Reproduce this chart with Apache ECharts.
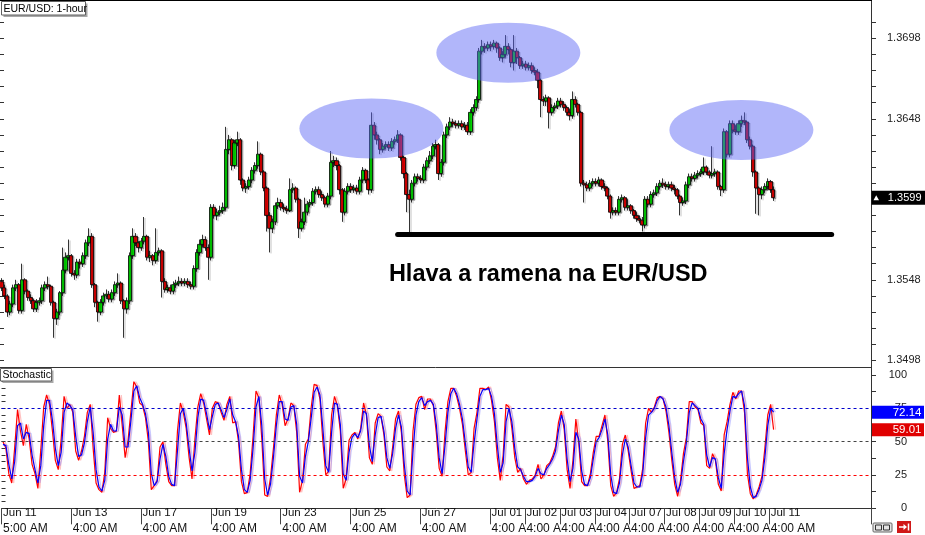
<!DOCTYPE html>
<html><head><meta charset="utf-8">
<script src="https://cdn.jsdelivr.net/npm/echarts@6/dist/echarts.min.js"></script>
<style>html,body{margin:0;padding:0;background:#fff}#c{width:925px;height:535px}</style>
</head><body><div id="c"></div>
<script>
// ---- Data (EUR/USD, 2-hour resolution) ----
const opens = [1.3547,1.3543,1.3538,1.3528,1.3533,1.3543,1.3545,1.3529,1.3548,1.3541,
1.3537,1.3535,1.3530,1.3534,1.3535,1.3543,1.3545,1.3544,1.3534,1.3524,
1.3528,1.3540,1.3554,1.3562,1.3563,1.3552,1.3551,1.3559,1.3558,1.3563,
1.3571,1.3575,1.3545,1.3534,1.3528,1.3534,1.3538,1.3539,1.3536,1.3540,
1.3545,1.3546,1.3535,1.3530,1.3535,1.3563,1.3575,1.3571,1.3568,1.3572,
1.3575,1.3562,1.3563,1.3560,1.3565,1.3566,1.3547,1.3542,1.3543,1.3541,
1.3545,1.3546,1.3547,1.3546,1.3547,1.3545,1.3544,1.3555,1.3565,1.3570,
1.3573,1.3568,1.3562,1.3593,1.3588,1.3590,1.3591,1.3593,1.3629,1.3635,
1.3619,1.3633,1.3635,1.3610,1.3605,1.3606,1.3610,1.3616,1.3619,1.3626,
1.3615,1.3605,1.3588,1.3580,1.3584,1.3594,1.3596,1.3593,1.3592,1.3591,
1.3604,1.3605,1.3598,1.3580,1.3584,1.3590,1.3595,1.3596,1.3603,1.3604,
1.3601,1.3599,1.3595,1.3600,1.3621,1.3622,1.3619,1.3604,1.3590,1.3603,
1.3606,1.3604,1.3605,1.3603,1.3610,1.3616,1.3610,1.3604,1.3644,1.3638,
1.3635,1.3629,1.3631,1.3632,1.3630,1.3634,1.3635,1.3638,1.3624,1.3614,
1.3601,1.3598,1.3608,1.3612,1.3611,1.3610,1.3618,1.3622,1.3625,1.3631,
1.3632,1.3614,1.3621,1.3638,1.3643,1.3646,1.3645,1.3644,1.3645,1.3643,
1.3644,1.3640,1.3652,1.3655,1.3660,1.3690,1.3693,1.3692,1.3694,1.3693,
1.3695,1.3692,1.3686,1.3688,1.3693,1.3691,1.3683,1.3690,1.3686,1.3681,
1.3682,1.3680,1.3681,1.3678,1.3677,1.3672,1.3660,1.3659,1.3661,1.3652,
1.3655,1.3656,1.3659,1.3657,1.3655,1.3652,1.3650,1.3660,1.3657,1.3652,
1.3608,1.3607,1.3605,1.3608,1.3609,1.3608,1.3610,1.3606,1.3605,1.3600,
1.3590,1.3591,1.3590,1.3598,1.3599,1.3593,1.3594,1.3591,1.3588,1.3586,
1.3585,1.3582,1.3598,1.3595,1.3601,1.3602,1.3606,1.3608,1.3607,1.3606,
1.3607,1.3605,1.3604,1.3600,1.3596,1.3597,1.3607,1.3612,1.3611,1.3613,
1.3614,1.3615,1.3618,1.3615,1.3613,1.3614,1.3615,1.3606,1.3604,1.3640,
1.3626,1.3645,1.3641,1.3640,1.3645,1.3647,1.3646,1.3635,1.3631,1.3615,
1.3605,1.3601,1.3604,1.3606,1.3609,1.3604];
const closes = [1.3543,1.3538,1.3528,1.3533,1.3543,1.3545,1.3529,1.3548,1.3541,1.3537,
1.3535,1.3530,1.3534,1.3535,1.3543,1.3545,1.3544,1.3534,1.3524,1.3528,
1.3540,1.3554,1.3562,1.3563,1.3552,1.3551,1.3559,1.3558,1.3563,1.3571,
1.3575,1.3545,1.3534,1.3528,1.3534,1.3538,1.3539,1.3536,1.3540,1.3545,
1.3546,1.3535,1.3530,1.3535,1.3563,1.3575,1.3571,1.3568,1.3572,1.3575,
1.3562,1.3563,1.3560,1.3565,1.3566,1.3547,1.3542,1.3543,1.3541,1.3545,
1.3546,1.3547,1.3546,1.3547,1.3545,1.3544,1.3555,1.3565,1.3570,1.3573,
1.3568,1.3562,1.3593,1.3588,1.3590,1.3591,1.3593,1.3629,1.3635,1.3619,
1.3633,1.3635,1.3610,1.3605,1.3606,1.3610,1.3616,1.3619,1.3626,1.3615,
1.3605,1.3588,1.3580,1.3584,1.3594,1.3596,1.3593,1.3592,1.3591,1.3604,
1.3605,1.3598,1.3580,1.3584,1.3590,1.3595,1.3596,1.3603,1.3604,1.3601,
1.3599,1.3595,1.3600,1.3621,1.3622,1.3619,1.3604,1.3590,1.3603,1.3606,
1.3604,1.3605,1.3603,1.3610,1.3616,1.3610,1.3604,1.3644,1.3638,1.3635,
1.3629,1.3631,1.3632,1.3630,1.3634,1.3635,1.3638,1.3624,1.3614,1.3601,
1.3598,1.3608,1.3612,1.3611,1.3610,1.3618,1.3622,1.3625,1.3631,1.3632,
1.3614,1.3621,1.3638,1.3643,1.3646,1.3645,1.3644,1.3645,1.3643,1.3644,
1.3640,1.3652,1.3655,1.3660,1.3690,1.3693,1.3692,1.3694,1.3693,1.3695,
1.3692,1.3686,1.3688,1.3693,1.3691,1.3683,1.3690,1.3686,1.3681,1.3682,
1.3680,1.3681,1.3678,1.3677,1.3672,1.3660,1.3659,1.3661,1.3652,1.3655,
1.3656,1.3659,1.3657,1.3655,1.3652,1.3650,1.3660,1.3657,1.3652,1.3608,
1.3607,1.3605,1.3608,1.3609,1.3608,1.3610,1.3606,1.3605,1.3600,1.3590,
1.3591,1.3590,1.3598,1.3599,1.3593,1.3594,1.3591,1.3588,1.3586,1.3585,
1.3582,1.3598,1.3595,1.3601,1.3602,1.3606,1.3608,1.3607,1.3606,1.3607,
1.3605,1.3604,1.3600,1.3596,1.3597,1.3607,1.3612,1.3611,1.3613,1.3614,
1.3615,1.3618,1.3615,1.3613,1.3614,1.3615,1.3606,1.3604,1.3640,1.3626,
1.3645,1.3641,1.3640,1.3645,1.3647,1.3646,1.3635,1.3631,1.3615,1.3605,
1.3601,1.3604,1.3606,1.3609,1.3604,1.3599];
const highs = [1.3549,1.3545,1.3539,1.3535,1.3545,1.3548,1.3546,1.3558,1.3549,1.3542,
1.3539,1.3536,1.3536,1.3537,1.3545,1.3547,1.3550,1.3545,1.3535,1.3530,
1.3541,1.3568,1.3565,1.3573,1.3564,1.3554,1.3561,1.3561,1.3565,1.3573,
1.3580,1.3577,1.3546,1.3535,1.3536,1.3540,1.3542,1.3541,1.3542,1.3547,
1.3552,1.3547,1.3536,1.3537,1.3565,1.3580,1.3577,1.3572,1.3574,1.3587,
1.3576,1.3566,1.3564,1.3580,1.3568,1.3567,1.3549,1.3545,1.3545,1.3547,
1.3548,1.3550,1.3549,1.3549,1.3549,1.3547,1.3557,1.3567,1.3573,1.3576,
1.3575,1.3570,1.3595,1.3595,1.3592,1.3594,1.3596,1.3643,1.3638,1.3636,
1.3635,1.3640,1.3636,1.3611,1.3608,1.3612,1.3618,1.3621,1.3634,1.3627,
1.3616,1.3606,1.3590,1.3586,1.3596,1.3599,1.3598,1.3595,1.3594,1.3611,
1.3608,1.3606,1.3599,1.3586,1.3599,1.3597,1.3598,1.3605,1.3606,1.3606,
1.3603,1.3600,1.3602,1.3628,1.3625,1.3624,1.3620,1.3605,1.3605,1.3608,
1.3608,1.3607,1.3607,1.3612,1.3618,1.3617,1.3611,1.3652,1.3646,1.3640,
1.3636,1.3633,1.3634,1.3634,1.3636,1.3637,1.3641,1.3639,1.3625,1.3615,
1.3604,1.3610,1.3614,1.3614,1.3613,1.3620,1.3624,1.3628,1.3633,1.3635,
1.3633,1.3623,1.3640,1.3645,1.3649,1.3648,1.3647,1.3647,1.3647,1.3646,
1.3646,1.3654,1.3657,1.3662,1.3692,1.3697,1.3695,1.3696,1.3696,1.3697,
1.3696,1.3693,1.3690,1.3700,1.3695,1.3692,1.3700,1.3692,1.3687,1.3684,
1.3684,1.3683,1.3683,1.3680,1.3679,1.3673,1.3662,1.3663,1.3662,1.3657,
1.3658,1.3661,1.3661,1.3659,1.3656,1.3654,1.3665,1.3662,1.3658,1.3653,
1.3610,1.3609,1.3610,1.3611,1.3611,1.3612,1.3611,1.3608,1.3606,1.3601,
1.3593,1.3593,1.3600,1.3601,1.3600,1.3598,1.3595,1.3592,1.3590,1.3588,
1.3587,1.3600,1.3600,1.3603,1.3604,1.3608,1.3610,1.3611,1.3609,1.3609,
1.3609,1.3607,1.3605,1.3601,1.3599,1.3609,1.3614,1.3614,1.3615,1.3616,
1.3617,1.3624,1.3619,1.3616,1.3631,1.3617,1.3616,1.3607,1.3642,1.3641,
1.3647,1.3647,1.3644,1.3647,1.3650,1.3652,1.3647,1.3637,1.3632,1.3616,
1.3606,1.3606,1.3608,1.3611,1.3610,1.3606];
const lows = [1.3541,1.3536,1.3525,1.3526,1.3531,1.3541,1.3527,1.3527,1.3539,1.3535,
1.3533,1.3528,1.3528,1.3532,1.3533,1.3541,1.3542,1.3532,1.3512,1.3520,
1.3526,1.3538,1.3552,1.3560,1.3550,1.3548,1.3549,1.3555,1.3556,1.3561,
1.3569,1.3543,1.3531,1.3522,1.3526,1.3532,1.3536,1.3534,1.3534,1.3538,
1.3543,1.3533,1.3512,1.3527,1.3533,1.3561,1.3569,1.3565,1.3566,1.3570,
1.3560,1.3559,1.3557,1.3558,1.3563,1.3537,1.3540,1.3540,1.3539,1.3539,
1.3543,1.3544,1.3544,1.3544,1.3543,1.3542,1.3542,1.3553,1.3563,1.3568,
1.3566,1.3548,1.3560,1.3586,1.3585,1.3588,1.3589,1.3591,1.3626,1.3616,
1.3617,1.3631,1.3607,1.3603,1.3602,1.3604,1.3608,1.3614,1.3617,1.3613,
1.3603,1.3578,1.3565,1.3577,1.3582,1.3592,1.3591,1.3590,1.3589,1.3590,
1.3602,1.3596,1.3574,1.3578,1.3582,1.3588,1.3593,1.3594,1.3601,1.3599,
1.3597,1.3593,1.3593,1.3598,1.3618,1.3616,1.3601,1.3584,1.3588,1.3601,
1.3602,1.3602,1.3601,1.3601,1.3608,1.3608,1.3601,1.3602,1.3635,1.3632,
1.3626,1.3627,1.3629,1.3628,1.3628,1.3632,1.3633,1.3622,1.3611,1.3590,
1.3577,1.3596,1.3606,1.3609,1.3608,1.3608,1.3616,1.3620,1.3623,1.3629,
1.3610,1.3612,1.3619,1.3636,1.3641,1.3643,1.3642,1.3642,1.3641,1.3641,
1.3638,1.3638,1.3650,1.3653,1.3658,1.3688,1.3689,1.3690,1.3690,1.3691,
1.3689,1.3684,1.3683,1.3686,1.3688,1.3680,1.3678,1.3682,1.3679,1.3679,
1.3678,1.3678,1.3676,1.3675,1.3667,1.3649,1.3656,1.3656,1.3642,1.3650,
1.3653,1.3654,1.3655,1.3653,1.3650,1.3647,1.3648,1.3655,1.3650,1.3606,
1.3596,1.3603,1.3603,1.3606,1.3606,1.3606,1.3604,1.3603,1.3598,1.3586,
1.3588,1.3588,1.3588,1.3596,1.3591,1.3591,1.3589,1.3586,1.3584,1.3583,
1.3578,1.3580,1.3593,1.3593,1.3599,1.3600,1.3604,1.3605,1.3604,1.3604,
1.3603,1.3601,1.3598,1.3588,1.3594,1.3595,1.3605,1.3609,1.3609,1.3611,
1.3612,1.3613,1.3613,1.3611,1.3611,1.3612,1.3604,1.3600,1.3602,1.3624,
1.3624,1.3639,1.3638,1.3638,1.3643,1.3644,1.3633,1.3629,1.3612,1.3589,
1.3588,1.3598,1.3602,1.3604,1.3602,1.3597];
// Stochastic %K (red) and %D (blue)
const stochK = [50,45,26,19,45,74,58,47,63,52,33,26,15,44,76,85,78,58,36,29,
52,84,75,78,72,43,36,43,54,72,78,45,19,14,12,27,68,60,57,58,
85,62,38,51,73,95,91,79,77,68,50,14,17,21,46,50,33,20,17,17,
58,79,72,60,38,22,52,76,86,79,67,55,75,80,79,72,66,78,84,64,
65,50,20,11,12,26,54,88,83,52,10,9,23,45,70,85,78,62,67,79,
77,57,12,21,48,52,76,93,92,82,50,25,28,70,84,77,58,15,22,51,
55,57,52,60,79,70,38,33,64,71,69,55,31,28,46,67,73,57,25,8,
10,58,78,83,84,74,82,82,77,57,30,24,57,80,90,90,84,75,63,43,
25,27,60,72,90,90,89,91,81,65,38,21,40,78,76,60,38,27,30,22,
18,21,22,25,33,22,25,32,34,39,46,64,73,59,29,15,36,67,49,20,
17,17,26,42,54,54,62,70,50,17,9,12,22,48,55,43,28,15,16,17,
30,64,75,72,76,83,84,82,73,57,36,18,9,21,41,53,80,80,76,74,
64,62,32,30,41,36,18,13,55,65,78,87,82,88,88,72,26,11,7,10,
16,24,45,70,78,59.01];
const stochD = [48,47,33,22,35,62,64,52,57,56,40,29,19,32,62,81,81,66,45,32,
42,72,79,77,74,54,39,40,49,65,76,57,29,16,13,21,52,63,58,58,
76,70,46,46,66,88,92,83,78,71,57,26,17,20,37,48,39,24,18,17,
43,71,75,64,45,28,42,68,82,81,71,59,69,78,79,74,68,74,82,70,
65,54,29,14,12,21,45,76,84,62,22,10,18,38,62,80,80,67,66,76,
77,63,24,19,39,50,68,87,91,85,60,32,27,57,79,78,63,26,21,42,
53,56,53,58,73,71,47,35,55,68,69,58,38,30,41,60,70,61,33,13,
10,43,70,80,83,77,80,81,78,63,38,26,47,72,86,90,86,78,67,49,
31,27,49,67,84,89,89,90,84,71,47,27,34,65,75,65,45,31,29,24,
20,20,21,24,30,26,25,30,33,37,43,58,70,63,37,20,30,57,52,28,
18,17,23,37,50,53,59,67,55,25,12,11,19,40,52,46,32,19,16,16,
26,53,70,72,75,81,84,82,76,62,42,23,12,18,35,49,72,79,77,75,
67,63,40,31,38,37,23,15,41,59,73,84,83,86,88,77,38,16,8,9,
14,21,38,62,75,72.14];
// Time axis labels and the bar each one belongs to
const dateLabels = ['Jun 11','Jun 13','Jun 17','Jun 19','Jun 23','Jun 25','Jun 27','Jul 01','Jul 02','Jul 03','Jul 04','Jul 07','Jul 08','Jul 09','Jul 10','Jul 11'];
const timeLabels = ['5:00 AM','4:00 AM','4:00 AM','4:00 AM','4:00 AM','4:00 AM','4:00 AM','4:00 AM','4:00 AM','4:00 AM','4:00 AM','4:00 AM','4:00 AM','4:00 AM','4:00 AM','4:00 AM'];
const labelBars = [0,24,48,72,96,120,144,168,180,192,204,216,228,240,252,264];
const priceTicks = [1.3498,1.3508,1.3518,1.3528,1.3538,1.3548,1.3558,1.3568,1.3578,1.3588,1.3598,1.3608,1.3618,1.3628,1.3638,1.3648,1.3658,1.3668,1.3678,1.3688,1.3698,1.3708];
const priceLabels = [1.3498,1.3548,1.3648,1.3698];
const stochLabels = [0,25,50,75,100];
const stochTicksRight = [0,12.5,25,37.5,50,62.5,75,87.5,100];
const stochTicksLeft = [5,10,15,20,25,30,35,40,45,50,55,60,65,70,75,80,85,90,95];
const stochLevels = [75,50,25];
const lastPrice = 1.3599;
const titleText = 'EUR/USD: 1-hour';
const stochTitle = 'Stochastic';
const patternText = 'Hlava a ramena na EUR/USD';
const shoulders = [{bar:127, price:1.3642},{bar:174, price:1.3689},{bar:254, price:1.3641}];
const neckline = {from:136, to:285, price:1.3576};
const patternLabelAt = {bar:133, price:1.3551};

// ---- Chart ----
const N_CATS = 299;
const cats = Array.from({length:N_CATS}, (_, i) => String(i));
const candleData = closes.map((c, i) => [opens[i], c, lows[i], highs[i]]);
const FONT = "'Liberation Sans', Arial, sans-serif";
const P_MIN = 1.349384, P_MAX = 1.372117, S_MIN = -8.0, S_MAX = 106.0;
const AX = '#333';
// the last (empty) category also gets a label slot, so the axis never drops "Jul 10"/"Jul 11" as overlapping ends
const isLabelSlot = (idx) => labelBars.indexOf(idx) >= 0 || idx === N_CATS - 1;

const chart = echarts.init(document.getElementById('c'));
chart.setOption({
  animation: false,
  backgroundColor: '#fff',
  grid: [
    {left: 0, right: 54, top: 1, height: 366},
    {left: 0, right: 54, top: 367, bottom: 16}
  ],
  xAxis: [
    {type:'category', gridIndex:0, data:cats, axisLine:{show:true, lineStyle:{color:AX}}, axisTick:{show:false}, axisLabel:{show:false}, splitLine:{show:false}},
    {type:'category', gridIndex:1, data:cats, position:'bottom', z:2,
     axisLine:{show:true, lineStyle:{color:AX}}, axisTick:{show:false}, splitLine:{show:false},
     axisLabel:{
       interval: isLabelSlot, hideOverlap: false,
       margin: -14, align: 'left',
       formatter: (v, idx) => { const k = labelBars.indexOf(idx); return k < 0 ? '' : '{d|' + dateLabels[k] + '}\n{t|' + timeLabels[k] + '}'; },
       rich: {
         d: {fontSize: 11.5, fontFamily: FONT, color: '#111', lineHeight: 16},
         t: {fontSize: 12, fontFamily: FONT, color: '#111', lineHeight: 16, backgroundColor: '#fff'}
       }
     }},
    {type:'category', gridIndex:1, data:cats, position:'bottom', z:10,
     axisLine:{show:false}, axisLabel:{show:false}, splitLine:{show:false},
     axisTick:{show:true, interval:(idx) => labelBars.indexOf(idx) >= 0, length:16, lineStyle:{color:'#444', width:1}}}
  ],
  yAxis: [
    {type:'value', gridIndex:0, position:'right', min:P_MIN, max:P_MAX, splitLine:{show:false},
     axisLine:{show:true, lineStyle:{color:AX}},
     axisTick:{show:true, customValues:priceTicks, length:5, lineStyle:{color:AX}},
     axisLabel:{customValues:priceLabels, formatter:(v)=>v.toFixed(4), margin:16, color:'#222', fontSize:11, fontFamily:FONT}},
    {type:'value', gridIndex:0, position:'left', min:P_MIN, max:P_MAX, splitLine:{show:false},
     axisLine:{show:false}, axisLabel:{show:false},
     axisTick:{show:true, inside:true, customValues:priceTicks, length:4, lineStyle:{color:AX}}},
    {type:'value', gridIndex:1, position:'right', min:S_MIN, max:S_MAX, splitLine:{show:false},
     axisLine:{show:true, lineStyle:{color:AX}},
     axisTick:{show:true, customValues:stochTicksRight, length:5, lineStyle:{color:AX}},
     axisLabel:{customValues:stochLabels, align:'right', margin:36, color:'#222', fontSize:11, fontFamily:FONT}},
    {type:'value', gridIndex:1, position:'left', min:S_MIN, max:S_MAX, splitLine:{show:false},
     axisLine:{show:false}, axisLabel:{show:false},
     axisTick:{show:true, inside:true, customValues:stochTicksLeft, length:4, lineStyle:{color:AX}}}
  ],
  series: [
    {type:'candlestick', xAxisIndex:0, yAxisIndex:0, data:candleData, barWidth:3.6,
     itemStyle:{color:'#00d400', color0:'#e00000', borderColor:'#000', borderColor0:'#000', borderColorDoji:'#000', borderWidth:0.8,
                shadowColor:'rgba(0,0,0,0.3)', shadowOffsetX:1.5, shadowOffsetY:1, shadowBlur:0},
     markLine:{silent:true, symbol:['none','none'], label:{show:false},
       lineStyle:{color:'#000', width:5, type:'solid', cap:'round'},
       data:[[{coord:[neckline.from, neckline.price]}, {coord:[neckline.to, neckline.price]}]]}},
    {type:'line', name:'%K', xAxisIndex:1, yAxisIndex:2, data:stochK, showSymbol:false, symbol:'none',
     lineStyle:{color:'#ff0000', width:1.2, shadowColor:'rgba(255,80,80,0.35)', shadowOffsetX:2, shadowBlur:0},
     markLine:{silent:true, symbol:['none','none'], label:{show:false},
       lineStyle:{type:[3,3], width:1},
       data: stochLevels.map((v, k) => ({yAxis:v, lineStyle:{color:['#0000cc','#444444','#ff0000'][k], type:[3,3], width:1}}))}},
    {type:'line', name:'%D', xAxisIndex:1, yAxisIndex:2, data:stochD, showSymbol:false, symbol:'none',
     lineStyle:{color:'#0000ff', width:1.2, shadowColor:'rgba(80,80,255,0.3)', shadowOffsetX:2, shadowBlur:0}}
  ]
});

// ---- Annotations placed through the chart's own scales ----
const px = (bar, price) => chart.convertToPixel({xAxisIndex:0, yAxisIndex:0}, [bar, price]);
const sy = (v) => chart.convertToPixel({yAxisIndex:2}, v);
const g = [];
g.push({type:'line', shape:{x1:0, y1:0.5, x2:872, y2:0.5}, style:{stroke:'#000', lineWidth:1}, z:50});
shoulders.forEach(s => {
  const p = px(s.bar, s.price);
  g.push({type:'ellipse', shape:{cx:p[0], cy:p[1], rx:72, ry:30}, style:{fill:'rgba(90,100,245,0.47)'}, z:100});
});
const tp = px(patternLabelAt.bar, patternLabelAt.price);
g.push({type:'text', x:tp[0], y:tp[1], z:100, style:{text:patternText, font:'bold 23.5px ' + FONT, fill:'#000', verticalAlign:'middle', align:'left'}});
// title boxes
function labelBox(x, y, w, h, text) {
  g.push({type:'rect', shape:{x:x+2, y:y+2, width:w, height:h}, style:{fill:'#a8a8a8'}, z:110});
  g.push({type:'rect', shape:{x:x, y:y, width:w, height:h}, style:{fill:'#fff', stroke:'#606060', lineWidth:1}, z:111});
  g.push({type:'text', x:x+2, y:y+h/2+0.5, z:112, style:{text:text, font:'10.5px ' + FONT, fill:'#000', verticalAlign:'middle'}});
}
labelBox(1.5, 1.5, 84, 13.5, titleText);
labelBox(0.5, 368.5, 51, 12.5, stochTitle);
// current price box
const lp = px(0, lastPrice)[1];
g.push({type:'rect', shape:{x:871.5, y:lp-7, width:53.5, height:14}, style:{fill:'#000'}, z:120});
g.push({type:'polygon', shape:{points:[[873.5,lp+2.5],[879,lp+2.5],[876.2,lp-2.5]]}, style:{fill:'#fff'}, z:121});
g.push({type:'text', x:921.5, y:lp+0.5, z:121, style:{text:lastPrice.toFixed(4), font:'11px ' + FONT, fill:'#fff', align:'right', verticalAlign:'middle'}});
// stochastic value boxes
[[stochD[stochD.length-1], '#0000ff'], [stochK[stochK.length-1], '#e00000']].forEach(([v, col]) => {
  const y = sy(v);
  g.push({type:'rect', shape:{x:872, y:y-6.5, width:52, height:13}, style:{fill:col}, z:120});
  g.push({type:'text', x:921.5, y:y+0.5, z:121, style:{text:v.toFixed(2), font:'11.5px ' + FONT, fill:'#fff', align:'right', verticalAlign:'middle'}});
});
// bottom-right icons
g.push({type:'rect', shape:{x:873, y:523, width:19, height:9, r:1}, style:{fill:'#e4e4e4', stroke:'#666', lineWidth:1}, z:120});
g.push({type:'rect', shape:{x:875.5, y:525, width:6, height:5}, style:{fill:'none', stroke:'#333', lineWidth:1}, z:121});
g.push({type:'rect', shape:{x:883.5, y:525, width:6, height:5}, style:{fill:'none', stroke:'#333', lineWidth:1}, z:121});
g.push({type:'rect', shape:{x:897, y:521, width:14, height:12}, style:{fill:'#d01818'}, z:120});
g.push({type:'polyline', shape:{points:[[899,527],[906,527]]}, style:{stroke:'#fff', lineWidth:1.5}, z:121});
g.push({type:'polygon', shape:{points:[[903.5,524],[907,527],[903.5,530]]}, style:{fill:'#fff'}, z:121});
g.push({type:'polyline', shape:{points:[[908.5,523.5],[908.5,530.5]]}, style:{stroke:'#fff', lineWidth:1.5}, z:121});
chart.setOption({graphic: g});
</script>
</body></html>
